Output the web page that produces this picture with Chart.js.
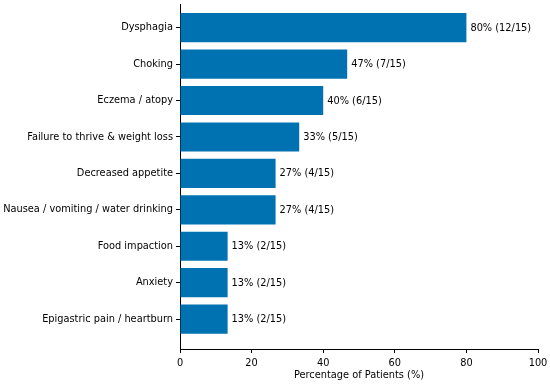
<!DOCTYPE html>
<html>
<head>
<meta charset="utf-8">
<script src="https://cdn.jsdelivr.net/npm/chart.js@4"></script>
<style>
  html, body { margin: 0; padding: 0; background: #fff; }
</style>
</head>
<body>
<canvas id="chart" width="550" height="384"></canvas>
<script>
// symptoms, top to bottom
const categories = [
  'Dysphagia',
  'Choking',
  'Eczema / atopy',
  'Failure to thrive & weight loss',
  'Decreased appetite',
  'Nausea / vomiting / water drinking',
  'Food impaction',
  'Anxiety',
  'Epigastric pain / heartburn'
];
const percentages = [80, 46.7, 40, 33.3, 26.7, 26.7, 13.3, 13.3, 13.3];
const counts = [12, 7, 6, 5, 4, 4, 2, 2, 2];
const totalPatients = 15;
const xTicks = [0, 20, 40, 60, 80, 100];

const FONT = 'DejaVu Sans';
const FS = 9.8;

const barLabels = {
  id: 'barLabels',
  afterDatasetsDraw(chart) {
    const ctx = chart.ctx;
    const meta = chart.getDatasetMeta(0);
    ctx.save();
    ctx.font = FS + 'px "' + FONT + '"';
    ctx.fillStyle = '#000';
    ctx.textAlign = 'left';
    ctx.textBaseline = 'middle';
    meta.data.forEach((bar, i) => {
      const txt = Math.round(percentages[i]) + '% (' + counts[i] + '/' + totalPatients + ')';
      ctx.fillText(txt, bar.x + 4, bar.y + 0.5);
    });
    ctx.restore();
  }
};

new Chart(document.getElementById('chart').getContext('2d'), {
  type: 'bar',
  data: {
    datasets: [{
      data: percentages.map((v, i) => ({ x: v, y: i })),
      backgroundColor: '#0072B2',
      borderWidth: 0,
      barPercentage: 0.8,
      categoryPercentage: 1.0
    }]
  },
  options: {
    indexAxis: 'y',
    responsive: false,
    animation: false,
    layout: { padding: { top: 4, right: 12, left: 0, bottom: 0 } },
    plugins: { legend: { display: false }, tooltip: { enabled: false } },
    scales: {
      x: {
        type: 'linear',
        min: 0,
        max: 100,
        afterBuildTicks: (s) => { s.ticks = xTicks.map(v => ({ value: v })); },
        afterFit: (s) => { s.height = 35; s.paddingLeft = 0; s.paddingRight = 0; },
        grid: { display: true, drawOnChartArea: false, drawTicks: true, tickLength: 4, tickColor: '#000' },
        border: { display: true, color: '#000', width: 1 },
        ticks: { color: '#000', font: { family: FONT, size: FS }, padding: 5, maxRotation: 0 },
        title: { display: true, text: 'Percentage of Patients (%)', color: '#000', font: { family: FONT, size: FS }, padding: { top: 0, bottom: 3 } }
      },
      y: {
        type: 'linear',
        reverse: true,
        offset: false,
        min: -0.65,
        max: 8.82,
        afterBuildTicks: (s) => { s.ticks = categories.map((c, i) => ({ value: i })); },
        afterFit: (s) => { s.width = 180; s.paddingTop = 0; s.paddingBottom = 0; },
        grid: { display: true, offset: false, drawOnChartArea: false, drawTicks: true, tickLength: 4, tickColor: '#000' },
        border: { display: true, color: '#000', width: 1 },
        ticks: {
          autoSkip: false,
          color: '#000',
          font: { family: FONT, size: FS },
          padding: 3,
          callback: (v) => categories[v]
        }
      }
    }
  },
  plugins: [barLabels]
});
</script>
</body>
</html>
